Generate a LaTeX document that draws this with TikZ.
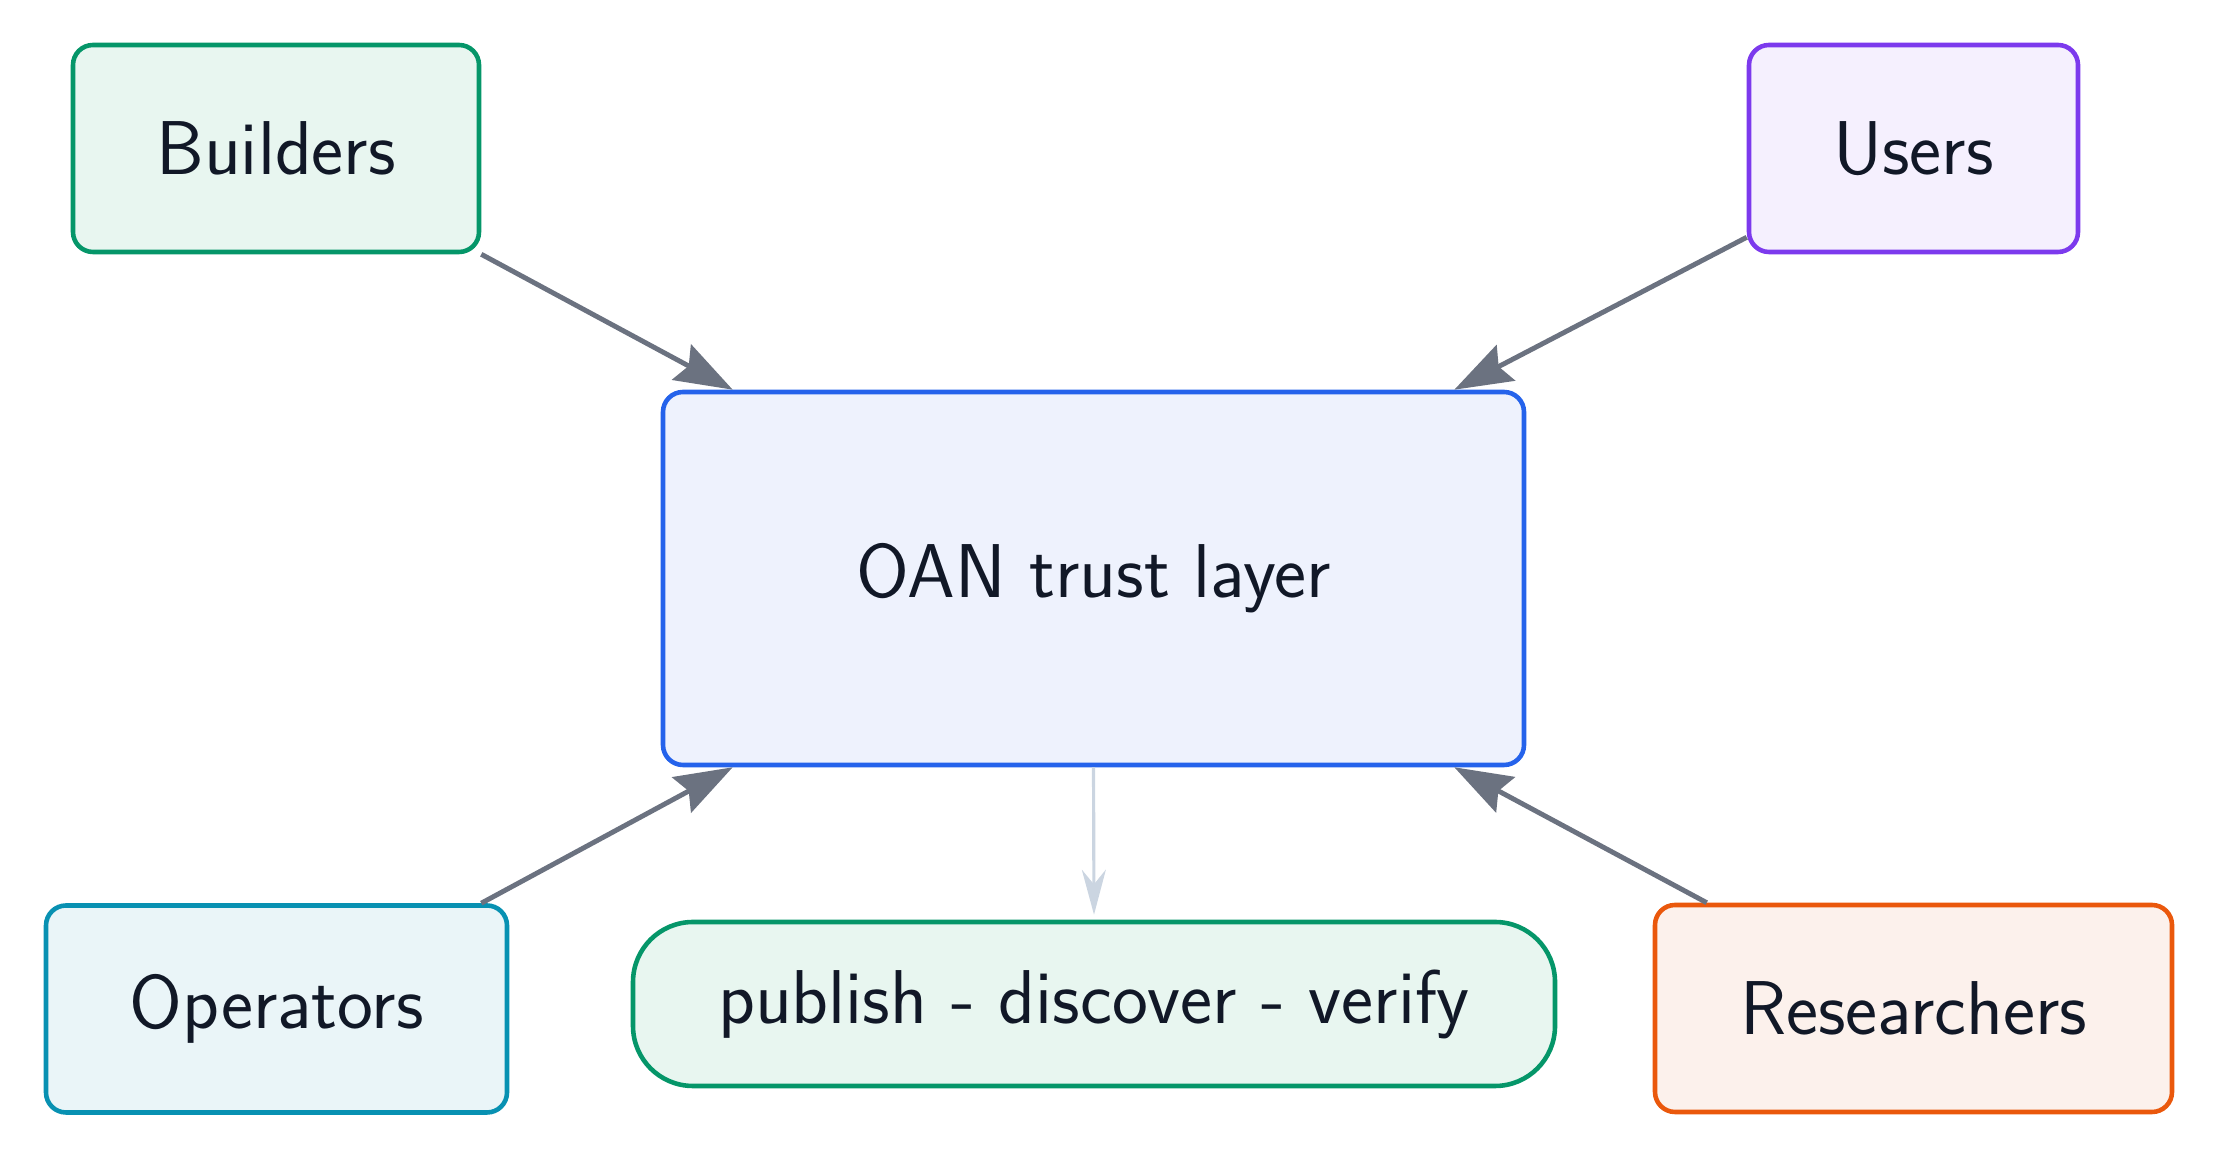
\documentclass[tikz,border=0pt]{standalone}
\usepackage{xcolor}
\definecolor{ink}{HTML}{111827}
\definecolor{arrgray}{HTML}{6B7280}
\definecolor{flowgray}{HTML}{CBD5E1}
\definecolor{emerald}{HTML}{059669}
\definecolor{emeraldbg}{HTML}{E8F6F0}
\definecolor{violet}{HTML}{7C3AED}
\definecolor{violetbg}{HTML}{F5F0FE}
\definecolor{royal}{HTML}{2563EB}
\definecolor{royalbg}{HTML}{EEF2FD}
\definecolor{cyanish}{HTML}{0891B2}
\definecolor{cyanbg}{HTML}{EAF5F8}
\definecolor{burnt}{HTML}{EA580C}
\definecolor{burntbg}{HTML}{FCF1EC}
\usepackage{tikz}
\usetikzlibrary{arrows.meta}

\begin{document}
\begin{tikzpicture}[
    box/.style={
        rectangle,
        draw,
        rounded corners=0.2cm,
        line width=1.3pt,
        inner sep=0pt,
        align=center,
        text=ink,
        font=\sffamily\fontsize{21.7}{26}\selectfont
    },
    arr/.style={-{Stealth[length=0.58cm, width=0.4cm, inset=0.08cm]}, line width=1.4pt, draw=arrgray},
    flow/.style={-{Stealth[length=0.45cm, width=0.24cm]}, line width=0.9pt, draw=flowgray}
]
\useasboundingbox (0,0) rectangle (22.17,11.58);

\node[box, fill=emeraldbg, draw=emerald, minimum width=4.06cm, minimum height=2.07cm] (builders) at (2.76,10.095) {Builders};
\node[box, fill=violetbg, draw=violet, minimum width=3.29cm, minimum height=2.07cm] (users) at (19.135,10.095) {Users};
\node[box, fill=royalbg, draw=royal, minimum width=8.61cm, minimum height=3.73cm] (oan) at (10.935,5.795) {OAN trust layer};
\node[box, fill=cyanbg, draw=cyanish, minimum width=4.61cm, minimum height=2.07cm] (operators) at (2.765,1.49) {Operators};
\node[box, fill=emeraldbg, draw=emerald, rounded corners=0.6cm, minimum width=9.22cm, minimum height=1.64cm] (publish) at (10.94,1.54) {publish - discover - verify};
\node[box, fill=burntbg, draw=burnt, minimum width=5.17cm, minimum height=2.07cm] (researchers) at (19.135,1.495) {Researchers};

\draw[arr] (builders.south east) -- ([xshift=0.72cm]oan.north west);
\draw[arr] ([yshift=0.17cm]users.south west) -- ([xshift=-0.72cm]oan.north east);
\draw[arr] ([xshift=-0.28cm]operators.north east) -- ([xshift=0.72cm]oan.south west);
\draw[arr] ([xshift=0.54cm]researchers.north west) -- ([xshift=-0.72cm]oan.south east);
\draw[flow] (oan.south) -- ([yshift=0.05cm]publish.north);

\end{tikzpicture}
\end{document}
